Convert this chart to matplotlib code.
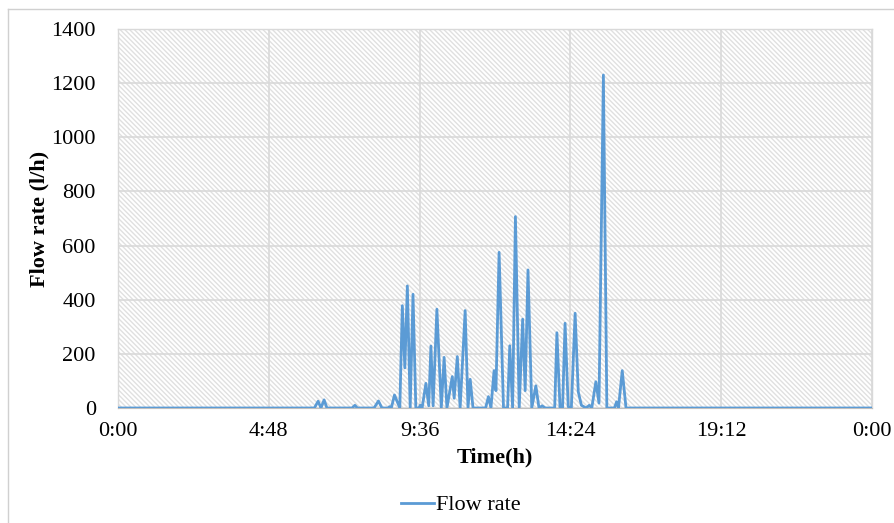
import matplotlib; matplotlib.use('Agg')
import matplotlib.pyplot as plt
from matplotlib.lines import Line2D
from matplotlib.patches import Rectangle

# Flow rate samples (time in hours, flow in l/h)
hours = [
    0.00, 6.25, 6.37, 6.46, 6.56, 6.65, 7.45, 7.54, 7.62, 8.15,
    8.29, 8.40, 8.60, 8.64, 8.70, 8.80, 8.97, 9.05, 9.13, 9.21,
    9.30, 9.39, 9.48, 9.58, 9.62, 9.68, 9.80, 9.89, 9.96, 10.03,
    10.15, 10.29, 10.38, 10.47, 10.64, 10.70, 10.80, 10.89, 11.05, 11.14,
    11.21, 11.30, 11.70, 11.79, 11.87, 11.97, 12.03, 12.13, 12.27, 12.40,
    12.47, 12.56, 12.65, 12.77, 12.88, 12.96, 13.05, 13.17, 13.30, 13.40,
    13.50, 13.60, 13.90, 13.97, 14.07, 14.15, 14.23, 14.33, 14.43, 14.55,
    14.65, 14.75, 14.90, 15.00, 15.08, 15.21, 15.31, 15.45, 15.56, 15.80,
    15.87, 15.93, 16.05, 16.17, 24.00,
]
flow = [
    0, 0, 25, 0, 30, 0, 0, 10, 0, 0,
    26, 0, 0, 5, 0, 48, 0, 378, 148, 451,
    0, 420, 0, 0, 10, 0, 91, 8, 229, 8,
    365, 0, 187, 0, 116, 36, 190, 0, 360, 0,
    106, 0, 0, 42, 0, 138, 64, 575, 0, 0,
    230, 0, 707, 0, 328, 64, 510, 0, 82, 0,
    8, 0, 0, 278, 0, 0, 313, 5, 0, 350,
    60, 10, 0, 10, 0, 97, 18, 1230, 0, 0,
    23, 0, 138, 0, 0,
]

x_ticks = [0, 4.8, 9.6, 14.4, 19.2, 24]
x_labels = ['0:00', '4:48', '9:36', '14:24', '19:12', '0:00']
y_ticks = [0, 200, 400, 600, 800, 1000, 1200, 1400]

plt.rcParams['font.family'] = ['Liberation Serif', 'DejaVu Serif']
plt.rcParams['hatch.linewidth'] = 1.0

fig = plt.figure(figsize=(8.94, 5.23), dpi=100)
ax = fig.add_axes([0.132, 0.2199, 0.8434, 0.7247])

# Hatched plot area background
ax.add_patch(Rectangle((0, 0), 1, 1, transform=ax.transAxes, facecolor='white',
                       edgecolor='#e0e0e0', hatch='\\' * 7, linewidth=0, zorder=0))

ax.plot(hours, flow, color='#5B9BD5', linewidth=2.0, zorder=3,
        solid_joinstyle='round', label='Flow rate')

ax.set_xlim(0, 24)
ax.set_ylim(0, 1400)
ax.set_xticks(x_ticks)
ax.set_xticklabels(x_labels)
ax.set_yticks(y_ticks)
ax.grid(True, color='#d9d9d9', linewidth=1.2, zorder=1)
ax.set_axisbelow(True)
ax.tick_params(length=0, labelsize=16, pad=10)
ax.tick_params(axis='y', pad=16)
for side in ('left', 'right', 'top'):
    ax.spines[side].set_color('#d9d9d9')
    ax.spines[side].set_linewidth(1.0)
ax.spines['bottom'].set_color('#bfbfbf')

ax.set_xlabel('Time(h)', fontsize=16, fontweight='bold', labelpad=5)
ax.set_ylabel('Flow rate (l/h)', fontsize=16, fontweight='bold', labelpad=1)

handle = Line2D([], [], color='#5B9BD5', linewidth=2.0)
fig.legend([handle], ['Flow rate'], loc='center', bbox_to_anchor=(461 / 894, 1 - 505 / 523),
           frameon=False, fontsize=16, handlelength=1.45, handletextpad=0.1)

# Light outer frame (top and left edges visible)
fig.add_artist(Line2D([8 / 894, 8 / 894], [0, 1 - 9 / 523], transform=fig.transFigure,
                      color='#d0d0d0', linewidth=1.0))
fig.add_artist(Line2D([8 / 894, 1], [1 - 9 / 523, 1 - 9 / 523], transform=fig.transFigure,
                      color='#d0d0d0', linewidth=1.0))

fig.savefig('out.png', dpi=100)
plt.close(fig)
